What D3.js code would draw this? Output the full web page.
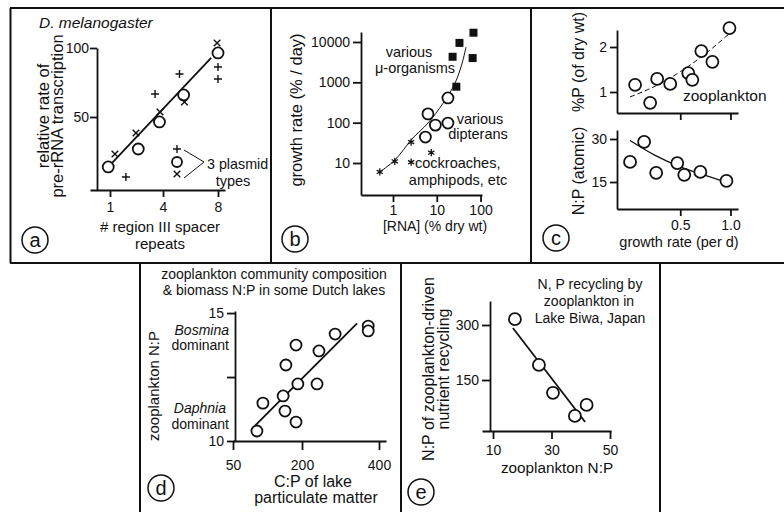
<!DOCTYPE html>
<html>
<head>
<meta charset="utf-8">
<script src="https://cdn.jsdelivr.net/npm/d3@7"></script>
<style>
  body { margin: 0; background: #fff; }
  svg { display: block; }
</style>
</head>
<body>
<svg width="784" height="512"></svg>
<script>
// ---- data ----
// (a) D. melanogaster: rate of pre-rRNA transcription vs spacer repeats
const aCircleX = [0.9, 2.6, 3.8, 5.5, 8.0];
const aCircleY = [13.8, 26.8, 46.4, 66, 96.4];
const aCrossX = [1.28, 2.47, 3.83, 5.56, 7.93];     // "x" plasmid
const aCrossY = [23.2, 38.4, 53.6, 60.9, 103.6];
const aPlusX = [1.9, 3.55, 5.2, 8.0, 8.0];           // "+" plasmid
const aPlusY = [6.5, 66.7, 81.2, 86.2, 77.5];
const aFitX = [1.0, 7.5];
const aFitY = [15.2, 92.8];
const aTicksX = [1, 4, 8];
const aTicksY = [50, 100];

// (b) growth rate vs RNA content (log-log)
const bStarX = [0.5, 1.1, 2.6, 7.5, 2.6];
const bStarY = [6, 11, 33, 18, 10.5];
const bCircleX = [5.5, 6.3, 9.3, 18, 18];
const bCircleY = [44, 165, 87, 410, 98];
const bSquareX = [28, 23, 33, 66, 69];
const bSquareY = [780, 4300, 9500, 4000, 17000];
const bCurveX = [0.5, 1.11, 2.72, 6.3, 13.9, 26, 38, 46.6];
const bCurveY = [6.0, 11.9, 39.4, 98, 303, 944, 3000, 7500];
const bTicksX = [1, 10, 100];
const bTicksY = [10, 100, 1000, 10000];

// (c) zooplankton %P and N:P vs growth rate
const cTopX = [0.05, 0.20, 0.27, 0.40, 0.58, 0.62, 0.71, 0.82, 0.99];
const cTopY = [1.16, 0.76, 1.29, 1.18, 1.42, 1.27, 1.91, 1.67, 2.42];
const cTopFitX = [0, 0.25, 0.5, 0.75, 1.0];
const cTopFitY = [0.89, 1.13, 1.45, 1.85, 2.32];
const cBotX = [0.0, 0.14, 0.26, 0.47, 0.54, 0.70, 0.96];
const cBotY = [22, 29, 18.2, 21.6, 17.5, 18.5, 15.4];
const cBotFitX = [0, 0.25, 0.5, 0.75, 0.97];
const cBotFitY = [29.5, 24.3, 20.3, 17.3, 14.8];
const cTicksX = [0.5, 1.0];
const cTicksTopY = [1, 2];
const cTicksBotY = [15, 30];

// (d) Dutch lakes: zooplankton N:P vs C:P of seston
const dX = [102, 115, 159, 163, 165, 187, 187, 191, 239, 244, 286, 372, 372];
const dY = [10.39, 11.48, 11.76, 11.17, 12.97, 13.75, 10.74, 12.23, 12.23, 13.52, 14.18, 14.49, 14.30];
const dFitX = [98, 343];
const dFitY = [10.6, 14.6];
const dTicksX = [50, 200, 400];
const dTicksY = [10, 12.5, 15];

// (e) Lake Biwa recycling N:P vs zooplankton N:P
const eX = [17.5, 25.7, 30.5, 38, 42];
const eY = [316, 191, 115, 52, 82];
const eFitX = [16.8, 41.5];
const eFitY = [292, 35.6];
const eTicksX = [10, 30, 50];
const eTicksY = [150, 300];

// ---- drawing ----
const font = "'Liberation Sans', Arial, Helvetica, sans-serif";
const fs = 14.5;      // default text size
const tickFs = 14;    // tick labels
const svg = d3.select("svg");
svg.append("rect").attr("width", 784).attr("height", 512).attr("fill", "#fff");

const zip = (xs, ys) => xs.map((x, i) => [x, ys[i]]);

// panel frames
const frame = svg.append("g").attr("stroke", "#111").attr("stroke-width", 2).attr("fill", "none");
frame.append("path").attr("d", "M10,8H784M10,263H784M10.5,8V263M271,8V263M531,8V263");
frame.append("path").attr("d", "M140,263V512M401,263V512M660,263V512");

function styleAxis(g) {
  g.selectAll("path, line").attr("stroke", "#111").attr("stroke-width", 1.8);
  g.selectAll("text").attr("fill", "#111").attr("font-family", font).attr("font-size", tickFs);
  g.attr("font-family", font).attr("font-size", tickFs);
}

function xAxis(g, scale, yPos, ticks, size, pad, fmt) {
  g.append("g").attr("transform", `translate(0,${yPos})`)
    .call(d3.axisBottom(scale).tickValues(ticks).tickSize(size).tickPadding(pad)
      .tickSizeOuter(0).tickFormat(fmt || (d => d)))
    .call(styleAxis);
}

function yAxis(g, scale, xPos, ticks, size, pad, fmt) {
  g.append("g").attr("transform", `translate(${xPos},0)`)
    .call(d3.axisLeft(scale).tickValues(ticks).tickSize(size).tickPadding(pad)
      .tickSizeOuter(0).tickFormat(fmt || (d => d)))
    .call(styleAxis);
}

function label(g, str, x, y, opts = {}) {
  const t = g.append("text").attr("x", x).attr("y", y)
    .attr("font-family", font).attr("font-size", opts.size || fs)
    .attr("fill", "#111").attr("text-anchor", opts.anchor || "middle")
    .text(str);
  if (opts.italic) t.attr("font-style", "italic");
  return t;
}

function vlabel(g, str, x, y, size) {
  g.append("text").attr("transform", `translate(${x},${y}) rotate(-90)`)
    .attr("font-family", font).attr("font-size", size || fs).attr("fill", "#111")
    .attr("text-anchor", "middle").text(str);
}

function panelTag(g, letter, cx, cy) {
  g.append("circle").attr("cx", cx).attr("cy", cy).attr("r", 13)
    .attr("fill", "none").attr("stroke", "#111").attr("stroke-width", 1.5);
  g.append("text").attr("x", cx).attr("y", cy + 6.5).attr("text-anchor", "middle")
    .attr("font-family", font).attr("font-size", 20).attr("fill", "#111").text(letter);
}

function circles(g, pts, x, y, r) {
  g.selectAll(null).data(pts).join("circle")
    .attr("cx", d => x(d[0])).attr("cy", d => y(d[1])).attr("r", r)
    .attr("fill", "#fff").attr("stroke", "#111").attr("stroke-width", 1.8);
}

function fitLine(g, pts, x, y, width, dash, curve) {
  const line = d3.line().x(d => x(d[0])).y(d => y(d[1])).curve(curve || d3.curveLinear);
  g.append("path").attr("d", line(pts)).attr("fill", "none")
    .attr("stroke", "#111").attr("stroke-width", width)
    .attr("stroke-dasharray", dash || null);
}

const plusPath = s => `M${-s},0H${s}M0,${-s}V${s}`;
const crossPath = s => `M${-s},${-s}L${s},${s}M${s},${-s}L${-s},${s}`;
const starPath = s => {
  let p = "";
  [90, 30, 150].forEach(a => {
    const dx = s * Math.cos(a * Math.PI / 180), dy = s * Math.sin(a * Math.PI / 180);
    p += `M${-dx},${-dy}L${dx},${dy}`;
  });
  return p;
};

// ===== (a) =====
{
  const g = svg.append("g");
  const x = d3.scaleLinear().domain([-0.13, 1, 4, 8, 8.5]).range([90, 110, 163, 218, 225]);
  const y = d3.scaleLinear().domain([-2.9, 100]).range([190, 48]);
  yAxis(g, y, 97, aTicksY, 7, 1);
  xAxis(g, x, 190, aTicksX, 7, 5);

  fitLine(g, zip(aFitX, aFitY), x, y, 1.8);
  circles(g, zip(aCircleX, aCircleY), x, y, 5.5);
  g.selectAll(null).data(zip(aCrossX, aCrossY)).join("path")
    .attr("transform", d => `translate(${x(d[0])},${y(d[1])})`)
    .attr("d", crossPath(3.3)).attr("stroke", "#111").attr("stroke-width", 1.4);
  g.selectAll(null).data(zip(aPlusX, aPlusY)).join("path")
    .attr("transform", d => `translate(${x(d[0])},${y(d[1])})`)
    .attr("d", plusPath(4)).attr("stroke", "#111").attr("stroke-width", 1.4);

  // legend
  g.append("path").attr("transform", "translate(177,149)").attr("d", plusPath(4))
    .attr("stroke", "#111").attr("stroke-width", 1.4);
  g.append("circle").attr("cx", 177).attr("cy", 162).attr("r", 5)
    .attr("fill", "#fff").attr("stroke", "#111").attr("stroke-width", 1.8);
  g.append("path").attr("transform", "translate(177,174)").attr("d", crossPath(3.3))
    .attr("stroke", "#111").attr("stroke-width", 1.4);
  g.append("path").attr("d", "M184,150L204,162L184,178").attr("fill", "none")
    .attr("stroke", "#111").attr("stroke-width", 1);
  label(g, "3 plasmid", 207, 169, { anchor: "start", size: 14.3 });
  label(g, "types", 233, 186, { size: 14.5 });

  label(g, "D. melanogaster", 39, 28, { anchor: "start", italic: true, size: 15.5 });
  vlabel(g, "relative rate of", 49, 116, 16.5);
  vlabel(g, "pre-rRNA transcription", 63, 116, 16.5);
  label(g, "# region III spacer", 160, 232, { size: 15 });
  label(g, "repeats", 160, 249, { size: 15 });
  panelTag(g, "a", 35, 240);
}

// ===== (b) =====
{
  const g = svg.append("g");
  const x = d3.scaleLog().domain([0.186, 108]).range([361, 482]);
  const y = d3.scaleLog().domain([1.61, 17700]).range([195, 32]);
  yAxis(g, y, 361, bTicksY, 8, 3, d3.format("d"));
  xAxis(g, x, 195, bTicksX, 7, 3, d3.format("d"));

  fitLine(g, zip(bCurveX, bCurveY), x, y, 1, null, d3.curveCatmullRom);
  g.selectAll(null).data(zip(bStarX, bStarY)).join("path")
    .attr("transform", d => `translate(${x(d[0])},${y(d[1])})`)
    .attr("d", starPath(3.6)).attr("stroke", "#111").attr("stroke-width", 1.3);
  circles(g, zip(bCircleX, bCircleY), x, y, 5.5);
  g.selectAll(null).data(zip(bSquareX, bSquareY)).join("rect")
    .attr("x", d => x(d[0]) - 4).attr("y", d => y(d[1]) - 4)
    .attr("width", 8).attr("height", 8).attr("fill", "#111");

  label(g, "various", 409, 57);
  label(g, "\u03bc-organisms", 415, 73);
  label(g, "various", 480, 124);
  label(g, "dipterans", 478, 139);
  label(g, "cockroaches,", 415, 168, { anchor: "start" });
  label(g, "amphipods, etc", 458, 185);
  vlabel(g, "growth rate (% / day)", 302, 110, 16.5);
  label(g, "[RNA] (% dry wt)", 435, 231, { size: 14 });
  panelTag(g, "b", 295, 239);
}

// ===== (c) =====
{
  const g = svg.append("g");
  const x = d3.scaleLinear().domain([-0.13, 1.075]).range([617, 738]);
  const yTop = d3.scaleLinear().domain([0.533, 2.378]).range([113, 30]);
  const yBot = d3.scaleLinear().domain([5.58, 33.14]).range([209, 130]);
  yAxis(g, yTop, 617, cTicksTopY, 7, 3);
  xAxis(g, x, 113, cTicksX, 7, 4, () => "");
  yAxis(g, yBot, 617, cTicksBotY, 7, 3);
  xAxis(g, x, 209, cTicksX, 7, 4, d3.format(".1f"));

  fitLine(g, zip(cTopFitX, cTopFitY), x, yTop, 1, "5,3", d3.curveMonotoneX);
  circles(g, zip(cTopX, cTopY), x, yTop, 6);
  fitLine(g, zip(cBotFitX, cBotFitY), x, yBot, 1.3, null, d3.curveMonotoneX);
  circles(g, zip(cBotX, cBotY), x, yBot, 6);

  label(g, "zooplankton", 683, 101, { anchor: "start", size: 15.5 });
  vlabel(g, "%P (of dry wt)", 584, 62, 16);
  vlabel(g, "N:P (atomic)", 584, 171, 16);
  label(g, "growth rate (per d)", 679, 247);
  panelTag(g, "c", 556, 238);
}

// ===== (d) =====
{
  const g = svg.append("g");
  const x = d3.scaleLinear().domain([50, 200, 400, 418]).range([233, 302, 379, 386]);
  const y = d3.scaleLinear().domain([10, 15.08]).range([441, 311]);
  yAxis(g, y, 235, dTicksY, 8, 3, d => d === 12.5 ? "" : d);
  xAxis(g, x, 441, dTicksX, 9, 10);

  fitLine(g, zip(dFitX, dFitY), x, y, 1.8);
  circles(g, zip(dX, dY), x, y, 5.5);

  label(g, "zooplankton community composition", 274, 279, { size: 14 });
  label(g, "& biomass N:P in some Dutch lakes", 274, 295, { size: 14 });
  label(g, "Bosmina", 229, 335, { anchor: "end", italic: true, size: 14 });
  label(g, "dominant", 229, 350, { anchor: "end", size: 14 });
  label(g, "Daphnia", 226, 413, { anchor: "end", italic: true, size: 14 });
  label(g, "dominant", 229, 429, { anchor: "end", size: 14 });
  vlabel(g, "zooplankton N:P", 159, 386, 15);
  label(g, "C:P of lake", 313, 487, { size: 16 });
  label(g, "particulate matter", 316, 503, { size: 16 });
  panelTag(g, "d", 161, 488);
}

// ===== (e) =====
{
  const g = svg.append("g");
  const x = d3.scaleLinear().domain([6.24, 50.34]).range([482, 611]);
  const y = d3.scaleLinear().domain([10.9, 365.5]).range([431, 301]);
  yAxis(g, y, 490, eTicksY, 8, 3);
  xAxis(g, x, 431, eTicksX, 8, 6);

  fitLine(g, zip(eFitX, eFitY), x, y, 1.8);
  circles(g, zip(eX, eY), x, y, 6);

  label(g, "N, P recycling by", 590, 289, { size: 14 });
  label(g, "zooplankton in", 589, 306, { size: 14 });
  label(g, "Lake Biwa, Japan", 590, 323, { size: 14 });
  vlabel(g, "N:P of zooplankton-driven", 434, 369, 16);
  vlabel(g, "nutrient recycling", 449, 369, 16);
  label(g, "zooplankton N:P", 557, 473, { size: 15.3 });
  panelTag(g, "e", 421, 492);
}
</script>
</body>
</html>
